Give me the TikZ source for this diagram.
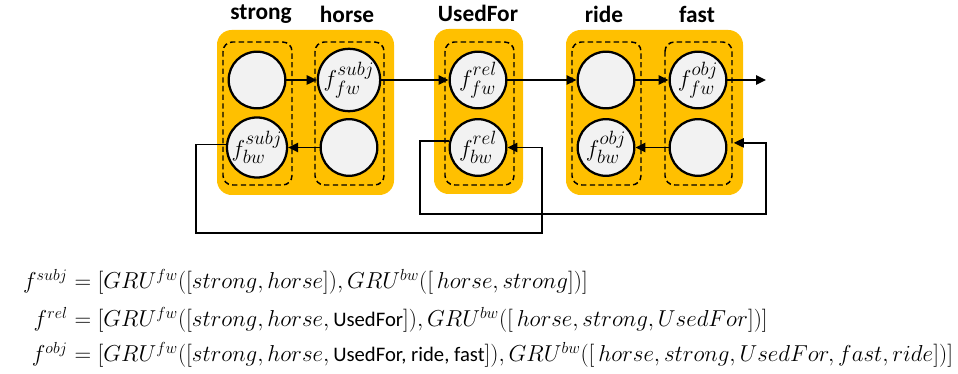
\documentclass[tikz,border=0pt]{standalone}
\usepackage{fontspec}
\setsansfont{Carlito}
\newfontfamily\lblfont{Carlito}
\usetikzlibrary{arrows.meta,calc}
\definecolor{gold}{HTML}{FFC000}
\definecolor{cfill}{HTML}{F2F2F2}
\DeclareMathSizes{19}{19}{14.5}{11}
\DeclareMathSizes{17}{17}{13}{10}
\newcommand{\sw}[1]{\mbox{\fontsize{15.5}{17}\selectfont\sffamily #1}}
\begin{document}
\begin{tikzpicture}[x=0.75pt,y=-0.75pt,
  goldbox/.style={fill=gold,draw=none,rounded corners=11pt},
  dashbox/.style={draw=black,dashed,line width=1.1pt,rounded corners=7pt,dash pattern=on 4pt off 2.5pt},
  cell/.style={circle,draw=black,fill=cfill,line width=1.7pt,minimum size=42.5pt,inner sep=0pt,font=\fontsize{19}{21}\selectfont},
  word/.style={font=\lblfont\bfseries\fontsize{17.5}{19}\selectfont,inner sep=0pt},
  conn/.style={line width=1.2pt,-{Triangle[length=7.5pt,width=7pt]}},
  loopline/.style={line width=1pt,-{Triangle[length=7.5pt,width=7pt]}},
  eq/.style={inner sep=0pt,font=\fontsize{17}{20}\selectfont}]
\useasboundingbox (0,0) rectangle (958,374);
% gold groups
\path[goldbox] (217,30) rectangle (394,195);
\path[goldbox] (434,29) rectangle (523,194);
\path[goldbox] (566,30) rectangle (743,195);
% dashed cells
\draw[dashbox] (223,42) rectangle (292,185);
\draw[dashbox] (315,42) rectangle (384,185);
\draw[dashbox] (445,42) rectangle (514,185);
\draw[dashbox] (572,42) rectangle (641,185);
\draw[dashbox] (665,42) rectangle (732,185);
% words
\node[word] (w1) at (261,14) {strong};
\node[word] (w2) at (347,14) {horse};
\node[word] (w3) at (478,13) {UsedFor};
\node[word] (w4) at (604,14) {ride};
\node[word] (w5) at (697,14) {fast};
% circles
\node[cell] (sf) at (257,80) {};
\node[cell] (sb) at (257,147.5) {$f^{subj}_{bw}$};
\node[cell] (hf) at (349,80) {$f^{subj}_{fw}$};
\node[cell] (hb) at (349,147.5) {};
\node[cell] (uf) at (478,80) {$f^{rel\vphantom{j}}_{fw}$};
\node[cell] (ub) at (478,147.5) {$f^{rel\vphantom{j}}_{bw}$};
\node[cell] (rf) at (606,80) {};
\node[cell] (rb) at (606,147.5) {$f^{obj}_{bw}$};
\node[cell] (ff) at (698,80) {$f^{obj}_{fw}$};
\node[cell] (fb) at (698,147.5) {};
\coordinate (out) at (766,80);
\coordinate (l1a) at (196,233);
\coordinate (l1b) at (542,233);
\coordinate (l2a) at (420,214);
\coordinate (l2b) at (766,214);
% forward
\draw[conn] (sf) -- (hf);
\draw[conn] (hf) -- (uf);
\draw[conn] (uf) -- (rf);
\draw[conn] (rf) -- (ff);
\draw[conn] (ff) -- (out);
% backward
\draw[conn] (hb) -- (sb);
\draw[conn] (fb) -- (rb);
\draw[loopline] (sb.174) -| (l1a) -- (l1b) |- (ub.east);
\draw[loopline,shorten >=5pt] (ub.167) -| (l2a) -- (l2b) |- (fb.9);
% equations
\node[eq,anchor=base east] (e1l) at (68,289) {$f^{subj}$};
\node[eq,anchor=base west] (e1r) at (68,289) {${}= [GRU^{fw}([strong, horse]), GRU^{bw}([\,horse, strong])]$};
\node[eq,anchor=base east] (e2l) at (68,327) {$f^{rel}$};
\node[eq,anchor=base west] (e2r) at (68,327) {${}= [GRU^{fw}([strong, horse, \sw{UsedFor}]), GRU^{bw}([\,horse, strong, UsedFor])]$};
\node[eq,anchor=base east] (e3l) at (68,362) {$f^{obj}$};
\node[eq,anchor=base west] (e3r) at (68,362) {${}= [GRU^{fw}([strong, horse, \sw{UsedFor, ride, fast}]), GRU^{bw}([\,horse, strong, UsedFor, fast, ride])]$};
\end{tikzpicture}
\end{document}
